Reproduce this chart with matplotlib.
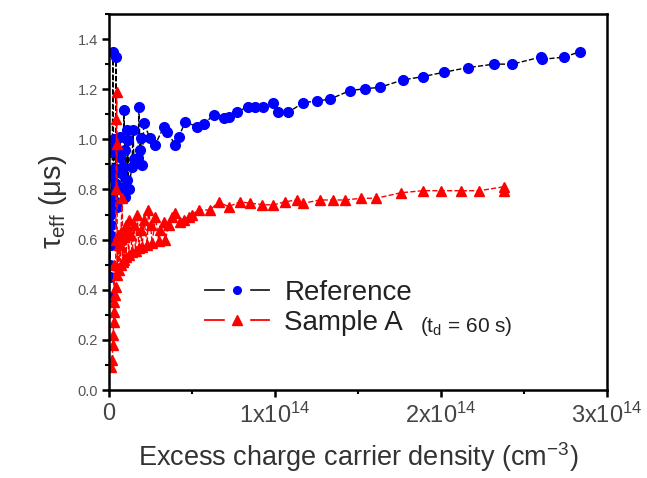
import matplotlib
matplotlib.use("Agg")
import matplotlib.pyplot as plt
from matplotlib.lines import Line2D
from matplotlib.ticker import MultipleLocator, FixedLocator

# Reference sample: carrier density (1e14 cm^-3) and tau_eff (us)
ref_x = [0.003, 0.004, 0.005, 0.006, 0.008, 0.010, 0.012, 0.014, 0.016, 0.018,
         0.020, 0.024, 0.028, 0.032, 0.036, 0.040, 0.042, 0.045, 0.048, 0.052,
         0.058, 0.066, 0.068, 0.070, 0.078, 0.084, 0.090, 0.096, 0.098, 0.108,
         0.110, 0.115, 0.118, 0.138, 0.145, 0.150, 0.175, 0.180, 0.187, 0.190,
         0.200, 0.210, 0.247, 0.277, 0.330, 0.350, 0.400, 0.420, 0.460, 0.530,
         0.570, 0.630, 0.690, 0.720, 0.770, 0.840, 0.880, 0.930, 0.990, 1.020,
         1.080, 1.170, 1.250, 1.330, 1.450, 1.540, 1.630, 1.770, 1.890, 2.020,
         2.160, 2.320, 2.430, 2.600, 2.610, 2.740, 2.840]
ref_y = [0.37, 0.50, 0.62, 0.45, 0.70, 0.58, 0.78, 0.66, 0.85, 0.74,
         0.95, 1.35, 0.88, 1.00, 0.977, 0.82, 1.33, 0.75, 0.73, 0.95,
         0.80, 1.01, 0.93, 0.865, 0.80, 0.89, 1.117, 0.957, 0.77, 1.037,
         0.838, 0.997, 0.80, 0.89, 1.037, 0.92, 0.925, 1.13, 0.957, 1.005,
         0.897, 1.064, 1.005, 0.977, 1.05, 1.03, 0.977, 1.01, 1.07, 1.05,
         1.06, 1.097, 1.084, 1.09, 1.11, 1.13, 1.13, 1.13, 1.143, 1.11,
         1.108, 1.146, 1.153, 1.16, 1.194, 1.202, 1.207, 1.237, 1.25, 1.268,
         1.286, 1.30, 1.30, 1.328, 1.319, 1.328, 1.35]

# Sample A (t_d = 60 s)
sa_x = [0.015, 0.020, 0.022, 0.025, 0.028, 0.030, 0.031, 0.033, 0.036, 0.040,
        0.041, 0.042, 0.045, 0.046, 0.048, 0.050, 0.052, 0.060, 0.062, 0.070,
        0.072, 0.080, 0.082, 0.090, 0.092, 0.100, 0.102, 0.110, 0.120, 0.122,
        0.130, 0.140, 0.150, 0.160, 0.170, 0.180, 0.190, 0.200, 0.210, 0.230,
        0.237, 0.250, 0.260, 0.280, 0.300, 0.310, 0.330, 0.340, 0.360, 0.380,
        0.400, 0.430, 0.450, 0.480, 0.500, 0.540, 0.610, 0.660, 0.720, 0.790,
        0.850, 0.920, 0.990, 1.060, 1.130, 1.170, 1.270, 1.350, 1.420, 1.520,
        1.610, 1.760, 1.890, 2.000, 2.120, 2.230, 2.380, 2.380]
sa_y = [0.09, 0.12, 0.18, 0.22, 0.27, 0.31, 0.50, 0.35, 0.38, 0.41,
        0.60, 0.80, 1.08, 1.19, 0.98, 0.46, 0.62, 0.48, 0.58, 0.50,
        0.63, 0.765, 0.51, 0.61, 0.52, 0.66, 0.53, 0.64, 0.54, 0.68,
        0.62, 0.55, 0.66, 0.555, 0.70, 0.565, 0.64, 0.57, 0.68, 0.58,
        0.718, 0.66, 0.585, 0.69, 0.595, 0.64, 0.67, 0.60, 0.66, 0.69,
        0.705, 0.67, 0.68, 0.69, 0.70, 0.718, 0.718, 0.751, 0.731, 0.751,
        0.745, 0.74, 0.738, 0.751, 0.758, 0.745, 0.758, 0.758, 0.758, 0.765,
        0.765, 0.787, 0.795, 0.795, 0.795, 0.795, 0.811, 0.795]

x_ticks = [0, 1e14, 2e14, 3e14]
x_labels = ["0", "1x10$^{14}$", "2x10$^{14}$", "3x10$^{14}$"]
y_ticks = [0, 0.2, 0.4, 0.6, 0.8, 1.0, 1.2, 1.4]

plt.rcParams['font.family'] = ['Liberation Sans', 'DejaVu Sans']
plt.rcParams['mathtext.fontset'] = 'custom'
plt.rcParams['mathtext.rm'] = 'Liberation Sans'
plt.rcParams['mathtext.it'] = 'Liberation Sans'

fig = plt.figure(figsize=(6.47, 4.78), dpi=100)
ax = fig.add_axes([109/647, 88/478, 498/647, 376/478])

ax.plot([v * 1e14 for v in ref_x], ref_y, color='black', linestyle='--', linewidth=1,
        marker='o', markersize=7, markerfacecolor='blue', markeredgecolor='blue')
ax.plot([v * 1e14 for v in sa_x], sa_y, color='red', linestyle='--', linewidth=1,
        marker='^', markersize=7.5, markerfacecolor='red', markeredgecolor='red')

ax.set_xlim(0, 3e14)
ax.set_ylim(0, 1.5)
ax.xaxis.set_major_locator(FixedLocator(x_ticks))
ax.set_xticklabels(x_labels)
ax.xaxis.set_minor_locator(MultipleLocator(0.5e14))
ax.yaxis.set_major_locator(FixedLocator(y_ticks))
ax.yaxis.set_minor_locator(MultipleLocator(0.1))
ax.set_yticklabels([f"{v:.1f}" for v in y_ticks])

for s in ax.spines.values():
    s.set_linewidth(1.8)
ax.tick_params(which='major', direction='out', length=5, width=1.8)
ax.tick_params(which='minor', direction='out', length=3, width=1.5)
ax.tick_params(axis='y', labelsize=10.5, labelcolor='#555555', pad=3)
ax.tick_params(axis='x', labelsize=17, labelcolor='#444444', pad=4)

ax.set_xlabel("Excess charge carrier density (cm$^{-3}$)", fontsize=19.5, color='#333333', labelpad=9)
ax.set_ylabel(r"$\tau_{\rm eff}$ ($\mu$s)", fontsize=21, color='#333333', labelpad=6)

# legend proxies: line with a white gap, small marker on top
gap_ref = Line2D([], [], color='#222222', linewidth=1.3, marker='s', markersize=17,
                 markerfacecolor='white', markeredgecolor='white')
dot_ref = Line2D([], [], linestyle='none', marker='o', markersize=5.5,
                 markerfacecolor='blue', markeredgecolor='blue')
gap_sa = Line2D([], [], color='red', linewidth=1.3, marker='s', markersize=17,
                markerfacecolor='white', markeredgecolor='white')
tri_sa = Line2D([], [], linestyle='none', marker='^', markersize=6.5,
                markerfacecolor='red', markeredgecolor='red')
leg = ax.legend([(gap_ref, dot_ref), (gap_sa, tri_sa)], ["Reference", "Sample A"],
                loc='center left', bbox_to_anchor=(0.193, 0.219), frameon=False,
                fontsize=20, borderpad=0, borderaxespad=0, handlelength=2.3,
                handletextpad=0.55, labelspacing=0.15)
for t in leg.get_texts():
    t.set_color('#222222')
ax.text(0.625, 0.168, "(t$_{d}$ = 60 s)", transform=ax.transAxes, fontsize=15,
        color='#222222', va='center')

fig.savefig("out.png", dpi=100)
